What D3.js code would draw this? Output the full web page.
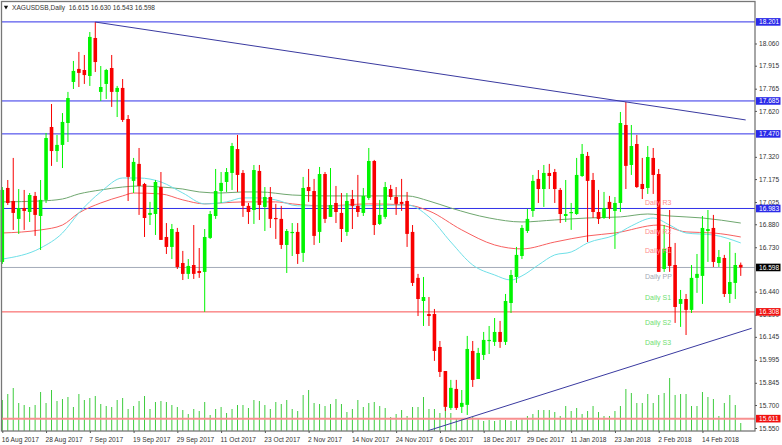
<!DOCTYPE html>
<html><head><meta charset="utf-8">
<script src="https://d3js.org/d3.v7.min.js"></script>
<style>html,body{margin:0;padding:0;background:#fff}svg{display:block}text{font-family:"Liberation Sans",Arial,sans-serif}</style>
</head><body><svg id="c" width="782" height="445"></svg>
<script>
const title = "XAGUSDSB,Daily  16.615 16.630 16.543 16.598";
const opens = [16.634,17.117,17.032,16.915,16.986,16.960,17.065,16.934,17.039,17.515,
17.358,17.398,17.541,17.809,17.894,17.887,17.848,18.096,17.744,17.796,
17.900,17.744,17.770,17.567,17.163,17.274,17.143,16.941,16.947,17.123,
16.797,16.732,16.830,16.627,16.556,16.614,16.575,16.569,16.791,16.934,
17.097,17.156,17.215,17.371,17.215,17.000,16.973,17.228,16.993,17.058,
16.921,16.915,16.745,16.823,16.830,16.693,17.123,17.097,16.830,17.208,
16.928,17.019,16.954,16.830,17.045,17.000,16.954,17.052,17.293,16.882,
16.928,17.110,17.058,17.026,17.032,16.830,16.530,16.379,16.294,16.294,
16.079,15.922,15.681,15.805,15.688,15.701,16.053,15.870,16.027,16.118,
16.112,16.177,16.112,16.366,16.536,16.673,16.836,16.967,17.176,17.110,
17.215,17.221,17.104,16.934,16.954,16.947,17.195,17.326,17.169,16.960,
16.921,17.026,16.967,17.019,17.528,17.267,17.404,17.143,17.117,17.313,
17.208,16.588,16.732,16.614,16.360,16.392,16.321,16.530,16.543,16.836,
16.856,16.627,16.660,16.425,16.497,16.615];
const highs = [17.123,17.169,17.313,17.110,17.104,17.084,17.091,17.169,17.476,17.665,
17.463,17.606,17.744,17.946,18.005,17.985,18.135,18.200,17.913,17.894,
17.985,17.783,17.828,17.593,17.313,17.378,17.150,17.026,17.169,17.221,
16.888,16.882,16.856,16.706,16.653,16.875,16.725,16.849,16.967,17.241,
17.221,17.247,17.411,17.463,17.234,17.019,17.267,17.267,17.123,17.123,
17.013,17.000,16.849,16.888,16.888,17.189,17.241,17.176,17.254,17.221,
17.247,17.130,17.084,17.084,17.104,17.202,17.117,17.378,17.300,17.039,
17.156,17.137,17.123,17.176,17.091,16.875,16.556,16.536,16.405,16.327,
16.118,15.922,15.864,15.864,15.798,16.151,16.118,16.073,16.177,16.216,
16.268,16.249,16.425,16.582,16.732,16.875,16.980,17.202,17.234,17.267,
17.274,17.241,17.117,17.169,17.019,17.313,17.404,17.352,17.215,17.104,
17.091,17.065,17.058,17.613,17.678,17.528,17.463,17.313,17.391,17.378,
17.241,16.875,16.973,16.758,16.451,16.425,16.614,16.686,16.934,16.973,
16.941,16.712,16.680,16.764,16.693,16.630];
const lows = [16.621,17.006,16.843,16.817,16.843,16.895,16.804,16.712,17.019,17.261,
17.287,17.247,17.417,17.763,17.776,17.796,17.783,17.874,17.685,17.698,
17.646,17.580,17.548,17.032,17.084,16.941,16.797,16.875,16.810,16.778,
16.686,16.653,16.588,16.516,16.523,16.523,16.530,16.308,16.784,16.915,
17.019,17.091,17.104,17.091,16.928,16.882,16.882,16.908,16.836,16.856,
16.784,16.719,16.562,16.673,16.621,16.634,17.026,16.745,16.758,16.888,
16.928,16.888,16.764,16.804,16.849,16.928,16.934,17.039,16.810,16.875,
16.915,17.039,16.941,16.967,16.732,16.477,16.281,16.216,16.216,15.988,
15.883,15.661,15.668,15.668,15.648,15.635,15.818,15.870,15.994,16.033,
16.086,16.073,16.092,16.301,16.497,16.653,16.823,16.928,17.019,16.993,
17.110,17.019,16.888,16.895,16.843,16.941,17.189,16.764,16.921,16.882,
16.915,16.915,16.719,16.960,17.110,17.202,17.117,17.045,17.078,17.078,
16.569,16.569,16.569,16.236,16.210,16.157,16.301,16.432,16.360,16.634,
16.601,16.601,16.405,16.366,16.392,16.543];
const closes = [17.104,17.019,16.954,16.986,16.967,17.071,16.941,17.039,17.443,17.358,
17.398,17.548,17.704,17.881,17.868,17.854,18.103,17.939,17.776,17.887,
17.744,17.770,17.561,17.189,17.287,17.130,16.921,16.954,17.156,16.778,
16.732,16.849,16.601,16.556,16.608,16.556,16.562,16.797,16.947,17.097,
17.150,17.221,17.391,17.202,17.000,16.960,17.234,17.006,17.058,16.915,
16.915,16.745,16.836,16.830,16.686,17.117,17.097,16.804,17.208,16.915,
17.006,16.960,16.849,17.032,17.000,16.960,17.065,17.293,16.875,16.941,
17.123,17.058,17.013,17.013,16.817,16.497,16.392,16.405,16.281,16.053,
15.916,15.688,15.812,15.681,15.714,16.066,15.864,16.040,16.125,16.125,
16.177,16.112,16.379,16.549,16.680,16.856,16.915,17.163,17.110,17.215,
17.195,17.110,16.947,16.947,16.960,17.202,17.339,17.163,16.960,16.915,
16.986,16.980,17.019,17.541,17.261,17.391,17.123,17.110,17.319,17.202,
16.569,16.719,16.608,16.340,16.392,16.321,16.530,16.556,16.856,16.849,
16.634,16.666,16.425,16.503,16.614,16.598];
const volumes = [310,370,430,280,260,240,260,390,280,410,300,320,340,240,370,310,330,350,270,250,
240,310,330,220,250,300,350,220,290,300,290,260,240,210,170,220,200,290,160,220,
240,180,220,260,260,230,310,300,
260,220,290,270,310,220,200,360,410,280,270,250,270,320,270,190,220,310,240,280,
290,250,230,140,170,210,150,240,240,340,220,220,180,240,180,120,120,120,140,120,
100,110,100,110,110,100,110,
120,150,170,210,210,210,190,150,250,200,230,170,200,250,190,150,150,200,250,420,
380,280,280,370,280,360,380,530,360,370,370,250,250,390,340,320,150,280,360,260,80];

const greenIdx = [0,7,11,14,18,22,25,29,33,36,40,44,47,53,59,65,74,78,82,89,95,101,107,113,118,122,128,135];
const greenVal = [17.026,17.032,17.045,17.078,17.104,17.123,17.130,17.123,17.110,17.091,17.084,17.091,17.091,17.071,17.065,17.065,17.065,17.032,16.986,16.921,16.895,16.908,16.921,16.928,16.947,16.934,16.921,16.888];
const redIdx = [0,7,11,14,18,22,24,29,33,37,40,44,47,50,53,59,67,74,78,84,90,95,101,107,112,120,125,130,135];
const redVal = [16.823,16.843,16.875,16.954,17.019,17.065,17.084,17.078,17.039,17.013,17.019,17.026,17.026,17.026,17.013,17.000,17.013,17.006,16.967,16.843,16.745,16.719,16.764,16.804,16.823,16.875,16.830,16.823,16.797];
const cyanIdx = [0,7,11,14,18,22,25,29,33,37,41,44,47,50,54,59,65,74,78,82,86,90,93,95,98,101,104,107,112,115,119,122,125,130,135];
const cyanVal = [16.653,16.725,16.823,16.954,17.091,17.182,17.182,17.156,17.084,17.013,17.026,17.052,17.052,17.039,17.000,17.000,17.000,17.006,16.928,16.764,16.614,16.549,16.516,16.543,16.614,16.680,16.699,16.758,16.810,16.869,16.921,16.875,16.823,16.810,16.758];

const blueLevels = [18.201,17.685,17.470,16.983];
const redLevels = [16.308,15.611];
const lastPrice = 16.598;
const trendDownIdx = [17,135.9], trendDownVal = [18.200,17.561];
const trendUpIdx = [77.7,137], trendUpVal = [15.531,16.201];

const pivotNames = ["Daily R3","Daily R2","Daily R1","Daily PP","Daily S1","Daily S2","Daily S3"];
const pivotVals = [17.019,16.836,16.706,16.536,16.405,16.236,16.105];
const pivotCols = ["#ff8c8c","#ff8c8c","#ff8c8c","#a4a9b4","#6fe06f","#6fe06f","#6fe06f"];
const pivotLabelIdx = 117.5;

const priceTicks = [18.060,17.915,17.765,17.620,17.320,17.175,17.025,16.880,16.730,16.440,16.290,16.145,15.995,15.845,15.700,15.550];
const dateLabels = ["16 Aug 2017","28 Aug 2017","7 Sep 2017","19 Sep 2017","29 Sep 2017","11 Oct 2017","23 Oct 2017","2 Nov 2017","14 Nov 2017","24 Nov 2017","6 Dec 2017","18 Dec 2017","29 Dec 2017","11 Jan 2018","23 Jan 2018","2 Feb 2018","14 Feb 2018"];
const dateTickEvery = 8;

const svg = d3.select("#c");
const x = d3.scaleLinear().domain([0,137]).range([2.3,2.3+5.47*137]);
const y = d3.scaleLinear().domain([15.55,18.201]).range([428,21.9]);
const v = d3.scaleLinear().domain([0,1000]).range([431,331]);
const FRAME = {l:1.5,t:1.5,r:755,b:431};

const upCol="#00f400", dnCol="#f80000";
// volumes
svg.append("g").selectAll("line").data(volumes).join("line")
 .attr("x1",(d,i)=>x(i)).attr("x2",(d,i)=>x(i)).attr("y1",v(0)).attr("y2",d=>v(d))
 .attr("stroke","#3ecc3e").attr("stroke-width",1);
// horizontal levels
svg.append("g").selectAll("line").data(blueLevels).join("line")
 .attr("x1",FRAME.l).attr("x2",FRAME.r).attr("y1",d=>y(d)).attr("y2",d=>y(d))
 .attr("stroke","#3030e8").attr("stroke-width",1);
svg.append("line").attr("x1",FRAME.l).attr("x2",FRAME.r).attr("y1",y(lastPrice)).attr("y2",y(lastPrice)).attr("stroke","#a4abb8").attr("stroke-width",1);
svg.append("line").attr("x1",FRAME.l).attr("x2",FRAME.r).attr("y1",y(redLevels[0])).attr("y2",y(redLevels[0])).attr("stroke","#f85050").attr("stroke-width",1);
svg.append("line").attr("x1",FRAME.l).attr("x2",FRAME.r).attr("y1",y(redLevels[1])).attr("y2",y(redLevels[1])).attr("stroke","#f89090").attr("stroke-width",2);
// moving averages
const ml=d3.line().x(d=>x(d[0])).y(d=>y(d[1])).curve(d3.curveMonotoneX);
[[greenIdx,greenVal,"#6fa76f"],[redIdx,redVal,"#f86060"],[cyanIdx,cyanVal,"#6fe0e8"]].forEach(([a,b,c])=>{
 svg.append("path").attr("d",ml(a.map((k,i)=>[k,b[i]]))).attr("fill","none").attr("stroke",c).attr("stroke-width",1);
});
// candles
const g=svg.append("g");
opens.forEach((o,i)=>{
 const c=closes[i], col=c>=o?upCol:dnCol;
 g.append("line").attr("x1",x(i)).attr("x2",x(i)).attr("y1",y(highs[i])).attr("y2",y(lows[i])).attr("stroke",col).attr("stroke-width",1);
 const t=y(Math.max(o,c)), b=y(Math.min(o,c));
 g.append("rect").attr("x",x(i)-1.8).attr("width",3.6).attr("y",t).attr("height",Math.max(b-t,1.2)).attr("fill",col);
});
// trendlines
[[trendDownIdx,trendDownVal],[trendUpIdx,trendUpVal]].forEach(([a,b])=>{
 svg.append("line").attr("x1",x(a[0])).attr("y1",y(b[0])).attr("x2",x(a[1])).attr("y2",y(b[1])).attr("stroke","#3a3aa0").attr("stroke-width",1);
});
// pivot labels
svg.append("g").selectAll("text").data(pivotNames).join("text")
 .attr("x",x(pivotLabelIdx)).attr("y",(d,i)=>y(pivotVals[i])+2.5).attr("font-size",7).attr("fill",(d,i)=>pivotCols[i]).text(d=>d);
// frame
svg.append("rect").attr("x",FRAME.l).attr("y",FRAME.t).attr("width",FRAME.r-FRAME.l).attr("height",FRAME.b-FRAME.t).attr("fill","none").attr("stroke","#777").attr("stroke-width",1.3);
// price axis
const ya=d3.axisRight(y).tickValues(priceTicks).tickSize(2).tickFormat(d3.format(".3f")).tickPadding(2);
const ag=svg.append("g").attr("transform",`translate(${FRAME.r},0)`).call(ya);
ag.select(".domain").remove();
ag.selectAll("line").attr("stroke","#555");
ag.selectAll("text").attr("font-size",6.6).attr("fill","#333").attr("font-family",'"Liberation Sans",Arial,sans-serif');
// date axis
const xa=d3.axisBottom(x).tickValues(dateLabels.map((d,i)=>i*dateTickEvery)).tickSize(2).tickFormat((d,i)=>dateLabels[i]).tickPadding(4);
const bg=svg.append("g").attr("transform",`translate(0,${FRAME.b})`).call(xa);
bg.select(".domain").remove();
bg.selectAll("line").attr("stroke","#555");
bg.selectAll("text").attr("font-size",6.6).attr("fill","#333").attr("text-anchor","start").attr("dx",-1).attr("font-family",'"Liberation Sans",Arial,sans-serif');
// price tags
const tags=[...blueLevels.map(d=>[d,"#2a2ae8","#fff"]),[lastPrice,"#000","#fff"],...redLevels.map(d=>[d,"#f01010","#fff"])];
tags.forEach(([p,bgc,fg])=>{
 svg.append("rect").attr("x",756).attr("y",y(p)-3.8).attr("width",24.5).attr("height",7.6).attr("fill",bgc);
 svg.append("text").attr("x",759).attr("y",y(p)+2.4).attr("font-size",6.6).attr("fill",fg).text(d3.format(".3f")(p));
});
// header
svg.append("path").attr("d",d3.symbol().type(d3.symbolTriangle).size(8)()).attr("transform","translate(6,7) rotate(180)").attr("fill","#111");
svg.append("text").attr("x",12).attr("y",10).attr("font-size",6.6).attr("fill","#333").style("white-space","pre").text(title);
</script></body></html>
